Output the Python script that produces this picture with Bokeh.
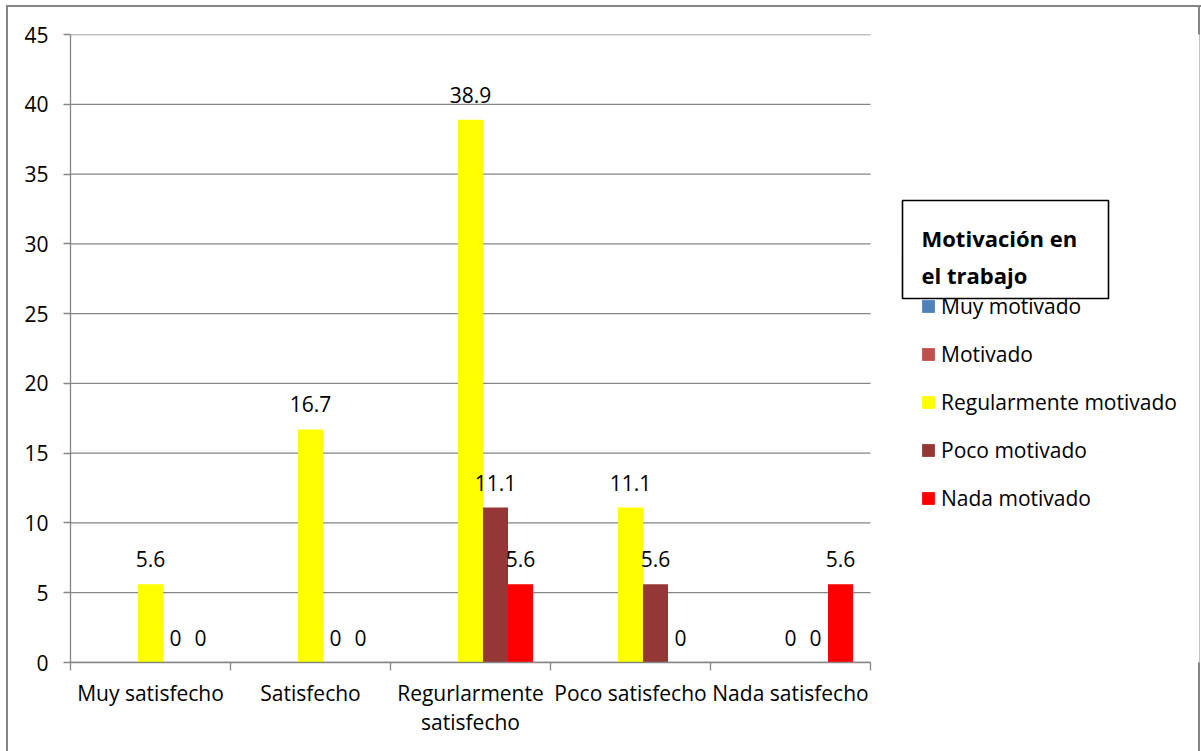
import numpy as np
from bokeh.plotting import figure
from bokeh.models import (ColumnDataSource, Range1d, LinearAxis,
                          FixedTicker, Legend, LegendItem, LabelSet, Label, BoxAnnotation)
from bokeh.transform import dodge
from bokeh.core.properties import value
from bokeh.embed import file_html
from bokeh.resources import INLINE

# ---------------- data ----------------
categories = ["Muy satisfecho", "Satisfecho", "Regurlarmente satisfecho",
              "Poco satisfecho", "Nada satisfecho"]
category_display = ["Muy satisfecho", "Satisfecho", "Regurlarmente\nsatisfecho",
                    "Poco satisfecho", "Nada satisfecho"]
series_names = ["Muy motivado", "Motivado", "Regularmente motivado",
                "Poco motivado", "Nada motivado"]
series_colors = ["#4F81BD", "#C0504D", "#FFFF00", "#953735", "#FF0000"]
muy_motivado = [None, None, None, None, None]
motivado = [None, None, None, None, None]
regularmente_motivado = [5.6, 16.7, 38.9, 11.1, 0]
poco_motivado = [0, 0, 11.1, 5.6, 0]
nada_motivado = [0, 0, 5.6, 0, 5.6]
y_ticks = [0, 5, 10, 15, 20, 25, 30, 35, 40, 45]
legend_title_lines = ["Motivación en", "el trabajo"]

series_values = [muy_motivado, motivado, regularmente_motivado, poco_motivado, nada_motivado]

FONT = "Open Sans"
GRAY = "#868686"
FS = "21px"

ncat = len(categories)
centers = [i + 0.5 for i in range(ncat)]
bounds = list(range(ncat + 1))

# layout: plot area 800 px wide for the categories, frame extended to the right
# so that the legend block (drawn inside the frame) is not clipped
LEFT, TOP, BOTTOM, RIGHT = 70, 34, 89, 2
W, H = 1201, 751
cat_px = 800.0
x_end = ncat * (W - LEFT - RIGHT) / cat_px

p = figure(x_range=Range1d(0, x_end), y_range=Range1d(0, 45),
           width=W, height=H, output_backend="svg", toolbar_location=None,
           x_axis_location=None,
           min_border_left=LEFT, min_border_right=RIGHT,
           min_border_top=TOP, min_border_bottom=BOTTOM)
p.outline_line_color = None
p.background_fill_color = "white"
p.border_fill_color = None
p.xgrid.visible = False
p.ygrid.visible = False
p.styles = {
    "background-color": "white",
    "background-image": ("linear-gradient(#868686,#868686), linear-gradient(#868686,#868686), "
                         "linear-gradient(#868686,#868686)"),
    "background-size": "2px 100%, 1195px 2px, 2px 100%",
    "background-position": "6px 5px, 6px 5px, 1198px 5px",
    "background-repeat": "no-repeat",
}

# horizontal gridlines limited to the category area
p.segment(x0=[0] * len(y_ticks), x1=[ncat] * len(y_ticks), y0=y_ticks, y1=y_ticks,
          line_color=GRAY, line_width=1.3)

# y axis
ya = p.yaxis[0]
ya.ticker = FixedTicker(ticks=y_ticks)
ya.bounds = (0, 45)
ya.major_tick_in = 0
ya.major_tick_out = 7
ya.minor_tick_line_color = None
ya.axis_line_color = GRAY
ya.axis_line_width = 1.3
ya.major_tick_line_color = GRAY
ya.major_tick_line_width = 1.3
ya.major_label_standoff = 15
ya.major_label_text_font = FONT
ya.major_label_text_font_size = FS
ya.major_label_text_color = "black"

# x axis: labels at category centres, ticks at category boundaries
cx = LinearAxis(ticker=FixedTicker(ticks=centers, minor_ticks=bounds))
cx.bounds = (0, ncat)
cx.axis_line_color = GRAY
cx.axis_line_width = 1.3
cx.major_tick_line_color = None
cx.major_tick_in = 0
cx.major_tick_out = 0
cx.minor_tick_line_color = GRAY
cx.minor_tick_line_width = 1.3
cx.minor_tick_in = 0
cx.minor_tick_out = 8
cx.major_label_standoff = 8
cx.major_label_text_font = FONT
cx.major_label_text_font_size = FS
cx.major_label_text_color = "black"
cx.major_label_text_line_height = 1.05
cx.major_label_overrides = {c: lab for c, lab in zip(centers, category_display)}
p.add_layout(cx, "below")

# bars
n = len(series_names)
bw = 0.15625
offsets = [(i - (n - 1) / 2) * bw for i in range(n)]
renderers = []
for name, vals, col, off in zip(series_names, series_values, series_colors, offsets):
    tops = np.array([np.nan if v is None else v for v in vals], dtype=float)
    src = ColumnDataSource(dict(pos=centers, cat=categories, top=tops,
                                txt=["" if v is None else f"{v:g}" for v in vals]))
    r = p.vbar(x=dodge("pos", off), top="top", width=bw, source=src,
               fill_color=col, line_color=None)
    renderers.append(r)
    if any(v is not None for v in vals):
        lbl = LabelSet(x=dodge("pos", off), y="top", text="txt", source=src,
                       text_align="center", text_baseline="middle", y_offset=25,
                       text_font=value(FONT), text_font_size=FS, text_color="black")
        p.add_layout(lbl)

# legend
legend = Legend(items=[LegendItem(label=nm, renderers=[r]) for nm, r in zip(series_names, renderers)],
                location=(850, 150), orientation="vertical",
                border_line_color=None, background_fill_alpha=0,
                padding=0, margin=0, spacing=20,
                glyph_width=16, glyph_height=16, label_height=20, label_standoff=5,
                label_text_font=FONT, label_text_font_size=FS, label_text_color="black")
p.add_layout(legend, "center")

# legend title box (overlapping the first item as in the original)
title_box = BoxAnnotation(left=902, right=1108, top=200, bottom=298,
                          left_units="canvas", right_units="canvas",
                          top_units="canvas", bottom_units="canvas",
                          fill_color="white", fill_alpha=1.0,
                          line_color="black", line_alpha=1.0, line_width=1.6)
p.add_layout(title_box)
for i, line in enumerate(legend_title_lines):
    p.add_layout(Label(x=921, y=237 + 37.6 * i, x_units="canvas", y_units="canvas",
                       text=line, text_font=FONT, text_font_size="22px",
                       text_font_style="bold", text_color="black",
                       text_align="left", text_baseline="alphabetic"))

open("out.html", "w").write(file_html(p, INLINE))
